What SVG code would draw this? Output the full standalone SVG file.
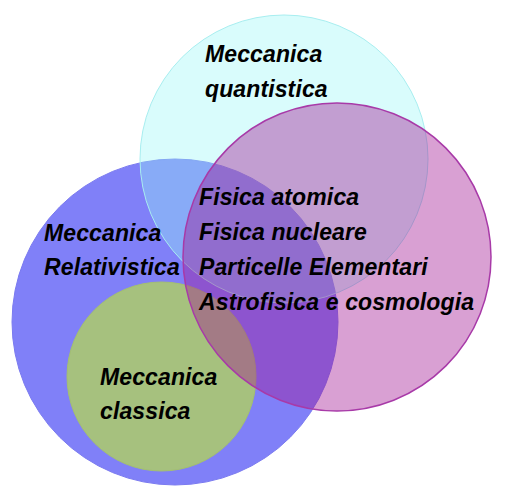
<svg xmlns="http://www.w3.org/2000/svg" width="507" height="498" viewBox="0 0 507 498">
<style>
text{font-family:"Liberation Sans",Arial,sans-serif;font-size:23px;font-weight:bold;font-style:italic;fill:#000;letter-spacing:0.12px}
</style>
<rect width="507" height="498" fill="#fff"/>
<g id="relativistica">
<circle cx="175" cy="322" r="163" fill="#8080F8" stroke="#7a7af0" stroke-width="1"/>
</g>
<g id="classica">
<circle cx="161.5" cy="376.5" r="94.5" fill="#A6C17E" stroke="#a4c070" stroke-width="1"/>
</g>
<g id="quantistica">
<circle cx="284" cy="159" r="144" fill="#96F7F7" fill-opacity="0.36" stroke="#a8eef0" stroke-width="1"/>
</g>
<g id="fisica">
<circle cx="337" cy="257" r="154" fill="#A01191" fill-opacity="0.4" stroke="#A83AA8" stroke-width="1.5"/>
</g>
<g id="labels">
<text x="205" y="62">Meccanica</text>
<text x="205" y="97">quantistica</text>
<text x="44" y="241">Meccanica</text>
<text x="44" y="275">Relativistica</text>
<text x="100" y="385">Meccanica</text>
<text x="100" y="419">classica</text>
<text x="199" y="205">Fisica atomica</text>
<text x="199" y="240">Fisica nucleare</text>
<text x="199" y="275">Particelle Elementari</text>
<text x="199" y="310">Astrofisica e cosmologia</text>
</g>
<g id="connectors"/>
</svg>
